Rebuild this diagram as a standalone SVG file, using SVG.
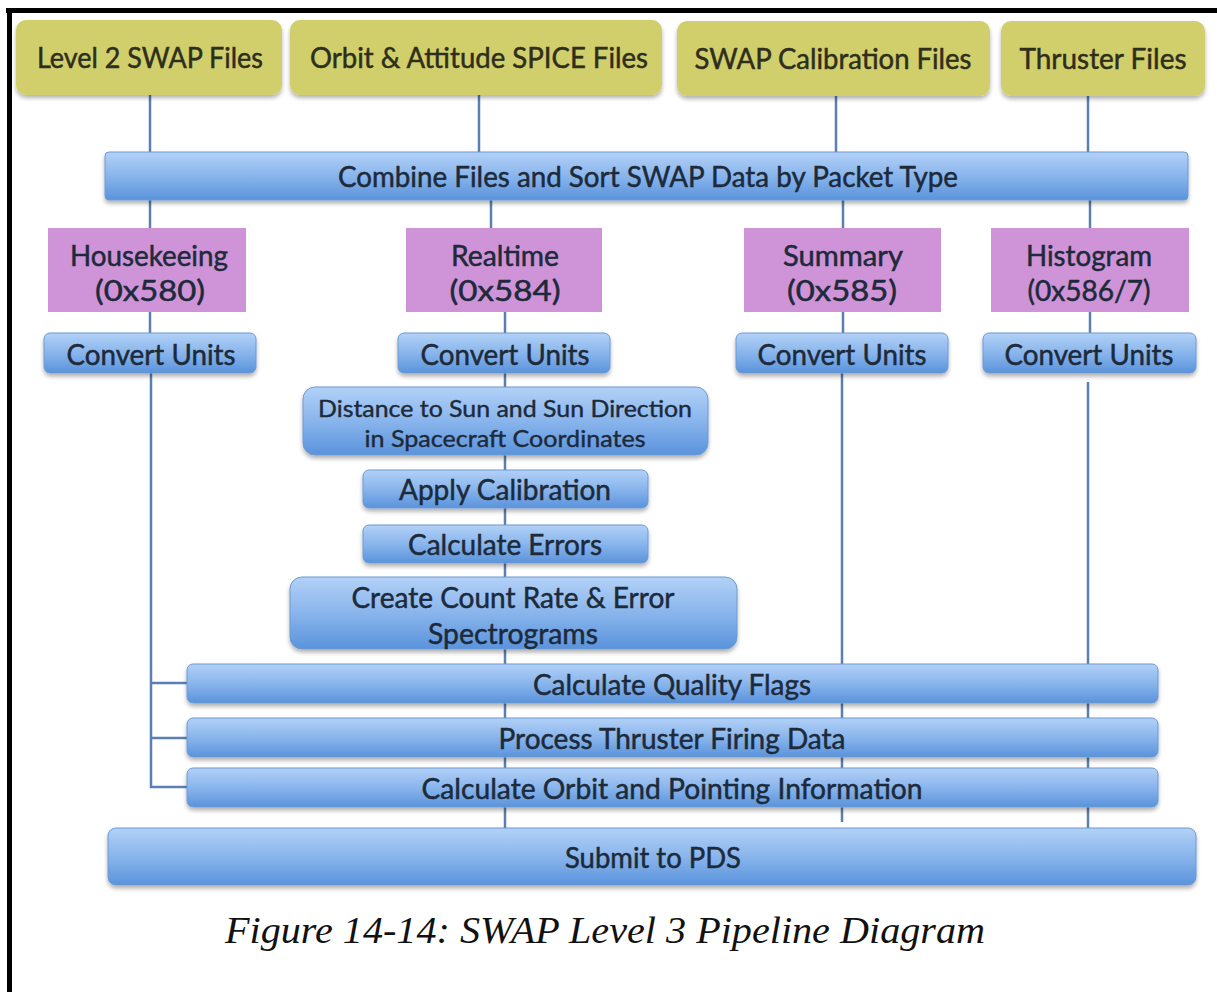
<svg xmlns="http://www.w3.org/2000/svg" width="1217" height="992" viewBox="0 0 1217 992">
<defs>
<linearGradient id="blue" x1="0" y1="0" x2="0" y2="1">
<stop offset="0" stop-color="#b2d1f7"/>
<stop offset="0.5" stop-color="#89b5ec"/>
<stop offset="1" stop-color="#5a93dc"/>
</linearGradient>
<filter id="sh" x="-5%" y="-20%" width="110%" height="150%">
<feDropShadow dx="0" dy="3" stdDeviation="2" flood-color="#000" flood-opacity="0.3"/>
</filter>
<style>
.yel{fill:#d1cf6c;filter:url(#sh)}
.pur{fill:#cf93d7}
.blu{fill:url(#blue);stroke:#6d9ad2;stroke-width:1;filter:url(#sh)}
.t{font-family:Lato,"Open Sans","DejaVu Sans",sans-serif;font-size:29px;text-anchor:middle;fill:#1d2a3a;stroke:#1d2a3a;stroke-width:0.5}
.ty{fill:#2e2e1c;stroke:#2e2e1c}
.ts{font-size:23px;stroke-width:0.4}
.con line,.con path{stroke:#5a7fb0;stroke-width:2.5;fill:none}
.cap{font-family:"Times New Roman","Liberation Serif",Times,serif;font-style:italic;font-size:38px;text-anchor:middle;fill:#111}
</style>
</defs>
<rect width="1217" height="992" fill="#fff"/>
<rect x="6" y="8" width="1211" height="5" fill="#000"/>
<rect x="7" y="8" width="5" height="984" fill="#000"/>

<g class="con">
<line x1="150" y1="95" x2="150" y2="152"/>
<line x1="479" y1="95" x2="479" y2="152"/>
<line x1="836" y1="95" x2="836" y2="152"/>
<line x1="1088" y1="95" x2="1088" y2="152"/>
<line x1="150" y1="200" x2="150" y2="228"/>
<line x1="491" y1="200" x2="491" y2="228"/>
<line x1="843" y1="200" x2="843" y2="228"/>
<line x1="1090" y1="200" x2="1090" y2="228"/>
<line x1="150" y1="312" x2="150" y2="333"/>
<line x1="505" y1="312" x2="505" y2="333"/>
<line x1="843" y1="312" x2="843" y2="333"/>
<line x1="1090" y1="312" x2="1090" y2="333"/>
<path d="M151 373 V787 H187 M151 683 H187 M151 738 H187"/>
<line x1="505" y1="373" x2="505" y2="828"/>
<line x1="842" y1="373" x2="842" y2="822"/>
<line x1="1088" y1="382" x2="1088" y2="828"/>
</g>

<g id="n-level2"><rect class="yel" x="16" y="20" width="266" height="75" rx="10"/><text class="t ty" x="150" y="68" textLength="226" lengthAdjust="spacingAndGlyphs">Level 2 SWAP Files</text></g>
<g id="n-orbit"><rect class="yel" x="290" y="20" width="372" height="75" rx="10"/><text class="t ty" x="479" y="68" textLength="338" lengthAdjust="spacingAndGlyphs">Orbit &amp; Attitude SPICE Files</text></g>
<g id="n-calib"><rect class="yel" x="677" y="21" width="313" height="75" rx="10"/><text class="t ty" x="833" y="69" textLength="277" lengthAdjust="spacingAndGlyphs">SWAP Calibration Files</text></g>
<g id="n-thruster"><rect class="yel" x="1001" y="21" width="204" height="75" rx="10"/><text class="t ty" x="1103" y="69" textLength="167" lengthAdjust="spacingAndGlyphs">Thruster Files</text></g>

<g id="n-combine"><rect class="blu" x="105" y="152" width="1083" height="48" rx="4"/><text class="t" x="648" y="187" textLength="620" lengthAdjust="spacingAndGlyphs">Combine Files and Sort SWAP Data by Packet Type</text></g>

<g id="n-hk"><rect class="pur" x="48" y="228" width="198" height="84"/><text class="t" x="149" y="266" textLength="158" lengthAdjust="spacingAndGlyphs">Housekeeing</text><text class="t" x="150" y="301" textLength="110" lengthAdjust="spacingAndGlyphs">(0x580)</text></g>
<g id="n-rt"><rect class="pur" x="406" y="228" width="196" height="84"/><text class="t" x="505" y="266" textLength="108" lengthAdjust="spacingAndGlyphs">Realtime</text><text class="t" x="505" y="301" textLength="111" lengthAdjust="spacingAndGlyphs">(0x584)</text></g>
<g id="n-sum"><rect class="pur" x="744" y="228" width="197" height="84"/><text class="t" x="843" y="266" textLength="120" lengthAdjust="spacingAndGlyphs">Summary</text><text class="t" x="842" y="301" textLength="110" lengthAdjust="spacingAndGlyphs">(0x585)</text></g>
<g id="n-hist"><rect class="pur" x="991" y="228" width="198" height="84"/><text class="t" x="1089" y="266" textLength="126" lengthAdjust="spacingAndGlyphs">Histogram</text><text class="t" x="1089" y="301" textLength="123" lengthAdjust="spacingAndGlyphs">(0x586/7)</text></g>

<g id="n-cu-hk"><rect class="blu" x="44" y="333" width="212" height="40" rx="6"/><text class="t" x="151" y="365" textLength="169" lengthAdjust="spacingAndGlyphs">Convert Units</text></g>
<g id="n-cu-rt"><rect class="blu" x="398" y="333" width="212" height="40" rx="6"/><text class="t" x="505" y="365" textLength="169" lengthAdjust="spacingAndGlyphs">Convert Units</text></g>
<g id="n-cu-sum"><rect class="blu" x="736" y="333" width="212" height="40" rx="6"/><text class="t" x="842" y="365" textLength="169" lengthAdjust="spacingAndGlyphs">Convert Units</text></g>
<g id="n-cu-hist"><rect class="blu" x="983" y="333" width="213" height="40" rx="6"/><text class="t" x="1089" y="365" textLength="169" lengthAdjust="spacingAndGlyphs">Convert Units</text></g>

<g id="n-distance"><rect class="blu" x="303" y="387" width="405" height="68" rx="12"/><text class="t ts" x="505" y="417" textLength="374" lengthAdjust="spacingAndGlyphs">Distance to Sun and Sun Direction</text><text class="t ts" x="505" y="447" textLength="281" lengthAdjust="spacingAndGlyphs">in Spacecraft Coordinates</text></g>
<g id="n-apply"><rect class="blu" x="363" y="470" width="285" height="38" rx="6"/><text class="t" x="505" y="500" textLength="212" lengthAdjust="spacingAndGlyphs">Apply Calibration</text></g>
<g id="n-errors"><rect class="blu" x="363" y="525" width="285" height="38" rx="6"/><text class="t" x="505" y="555" textLength="194" lengthAdjust="spacingAndGlyphs">Calculate Errors</text></g>
<g id="n-create"><rect class="blu" x="290" y="577" width="447" height="72" rx="12"/><text class="t" x="513" y="608" textLength="323" lengthAdjust="spacingAndGlyphs">Create Count Rate &amp; Error</text><text class="t" x="513" y="644" textLength="170" lengthAdjust="spacingAndGlyphs">Spectrograms</text></g>

<g id="n-quality"><rect class="blu" x="187" y="664" width="971" height="39" rx="6"/><text class="t" x="672" y="695" textLength="278" lengthAdjust="spacingAndGlyphs">Calculate Quality Flags</text></g>
<g id="n-thrust"><rect class="blu" x="187" y="718" width="971" height="39" rx="6"/><text class="t" x="672" y="749" textLength="347" lengthAdjust="spacingAndGlyphs">Process Thruster Firing Data</text></g>
<g id="n-orbitinfo"><rect class="blu" x="187" y="768" width="971" height="39" rx="6"/><text class="t" x="672" y="799" textLength="501" lengthAdjust="spacingAndGlyphs">Calculate Orbit and Pointing Information</text></g>
<g id="n-submit"><rect class="blu" x="108" y="828" width="1088" height="57" rx="8"/><text class="t" x="653" y="868" textLength="176" lengthAdjust="spacingAndGlyphs">Submit to PDS</text></g>

<text class="cap" x="605" y="943" textLength="760" lengthAdjust="spacingAndGlyphs">Figure 14-14: SWAP Level 3 Pipeline Diagram</text>
</svg>
